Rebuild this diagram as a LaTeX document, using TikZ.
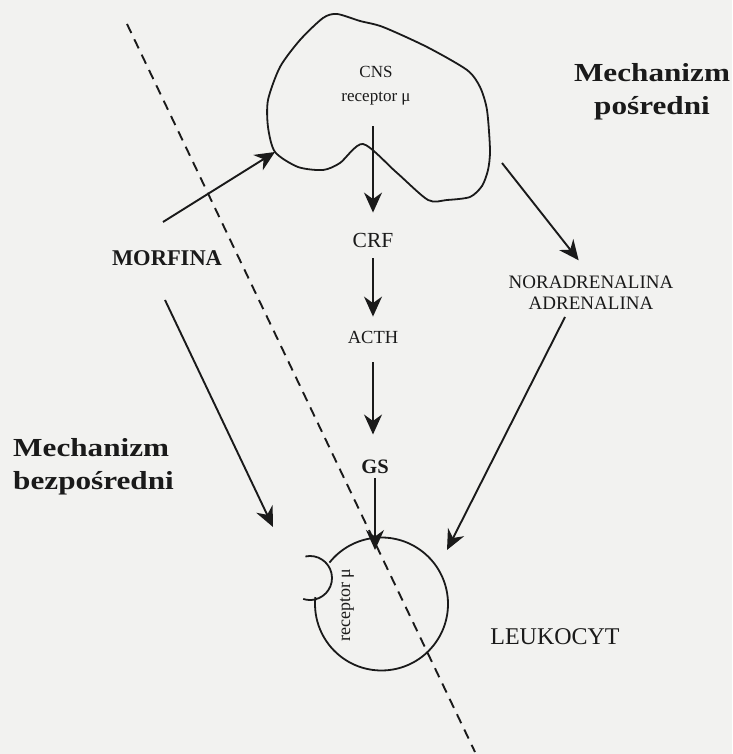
\documentclass[tikz,border=0pt]{standalone}
\usepackage{fontspec}
\setmainfont{Liberation Serif}
\newfontfamily\widebold[FakeStretch=1.2]{Liberation Serif}
\usetikzlibrary{arrows.meta,calc}
\definecolor{ink}{HTML}{1A1A1A}
\definecolor{paper}{HTML}{F2F2F0}

\begin{document}
\begin{tikzpicture}[x=1pt,y=1pt,>={Stealth[length=20pt,width=18pt,inset=6.5pt]}]
%\draw[gray,very thin] (0,0) grid[step=50] (732,754);
\tikzstyle{txt} = [inner sep=0pt, text=ink, align=center]
\tikzstyle{mech} = [txt, font=\widebold\bfseries\fontsize{26}{33}\selectfont]
\tikzstyle{cellline} = [draw=ink, line width=1.8pt]
\tikzstyle{drug} = [draw=ink, line width=1.9pt, dash pattern=on 10pt off 7pt]
\fill[paper] (0,0) rectangle (732,754);
\useasboundingbox (0,0) rectangle (732,754);

%CNS cell
\draw[cellline] plot[smooth cycle, tension=0.45] coordinates {(337,740) (360,733) (383,727) (427,707) (467,684) (480,667) (487,644) (490,604) (488,584) (482,568) (470,557) (447,554) (428,554) (396,582) (363,610) (340,591) (323,584) (298,587) (275,602) (268,627) (268,654) (280,687) (300,714) (323,736)};
\coordinate (blobin) at (275,602);
\coordinate (blobout) at (502,591);

%Creating Text Nodes
\node at (376,668) [txt, font=\fontsize{17}{24}\selectfont] (cns) {CNS\\receptor μ};
\node at (373,514) [txt, font=\fontsize{21.5}{21}\selectfont] (crf) {CRF};
\node at (373,417) [txt, font=\fontsize{18.5}{18}\selectfont] (acth) {ACTH};
\node at (375,287) [txt, font=\bfseries\fontsize{20.5}{20}\selectfont] (gs) {GS};
\node at (167,496) [txt, font=\bfseries\fontsize{22.5}{22}\selectfont] (morfina) {MORFINA};
\node at (591,461) [txt, font=\fontsize{19}{21}\selectfont] (nora) {NORADRENALINA\\ADRENALINA};
\node at (555,117) [txt, font=\fontsize{24}{24}\selectfont] (leuk) {LEUKOCYT};
\node at (652,662) [mech] (posr) {Mechanizm\\pośredni};
\node at (13,287.5) [mech, anchor=west, align=left] (bezp) {Mechanizm\\bezpośredni};

%Leukocyte with receptor
\node at (381.5,150) [circle, minimum size=133pt, inner sep=0pt] (cell) {};
\draw[cellline] (cell.center) ++(141.5:66.5) arc[start angle=141.5, end angle=-186, radius=66.5];
\draw[cellline] (310,176) ++(102:22) arc[start angle=102, end angle=-108, radius=22];
\node at (347,149) [txt, rotate=90, font=\fontsize{18}{18}\selectfont] (recp) {receptor μ};

\coordinate (m1) at (163,532);
\coordinate (m2) at (165,454);
\coordinate (celltip) at (273,227);
\coordinate (n2) at (565,437);
\coordinate (celltop) at (447,204);
\coordinate (dtop) at (127,730);
\coordinate (dbot) at (475,2);

\begin{scope}[ink, line width=1.5pt]
\draw[->, shorten <=20.7pt, shorten >=20pt] (crf |- cns.south) -- (crf.north);
\draw[->, shorten <=11pt, shorten >=14pt] (crf) -- (acth);
\draw[->, shorten <=19pt, shorten >=25.4pt] (acth) -- (acth |- gs.north);
\draw[->, shorten <=4.4pt, shorten >=54pt] (gs) -- (gs |- cell.center);
\end{scope}

\begin{scope}[ink, line width=1.9pt]
\draw[->] (m1) -- (blobin);
\draw[->] (m2) -- (celltip);
\draw[->, shorten >=20pt] (blobout) -- (nora.north);
\draw[->] (n2) -- (celltop);
\end{scope}

\draw[drug] (dtop) -- (dbot);

\end{tikzpicture}
\end{document}
